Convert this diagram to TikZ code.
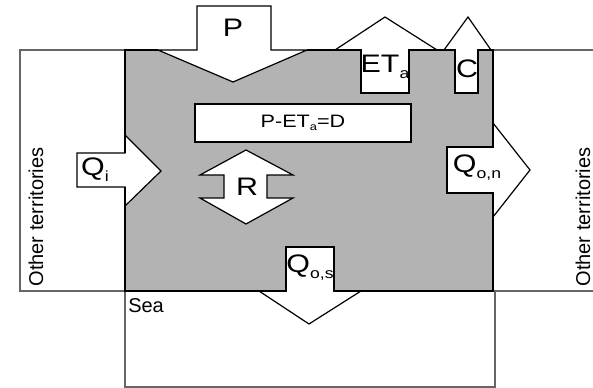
\documentclass[tikz,border=0pt]{standalone}
\usepackage{fontspec}
\setmainfont{Liberation Sans}
\newfontfamily\labfont[FakeStretch=1.2]{Liberation Sans}
\newcommand\sbs[1]{\raisebox{-4.5pt}{\fontsize{11}{12}\selectfont #1}}
\newcommand\sbsmall[1]{\raisebox{-2.5pt}{\fontsize{8}{9}\selectfont #1}}
\definecolor{landgray}{HTML}{B3B3B3}
\begin{document}
\begin{tikzpicture}[x=0.75pt,y=-0.75pt,
  region/.style={line width=0.8pt, draw=black!60},
  flow/.style={fill=white, draw=black, line width=0.9pt, line join=miter},
  rim/.style={line width=2pt, draw=black, line join=miter},
  lab/.style={font=\labfont\fontsize{19}{22}\selectfont, inner sep=0pt},
  side/.style={font=\fontsize{15}{18}\selectfont, inner sep=0pt},
  ]
\useasboundingbox (0,0) rectangle (593,388);
% surrounding regions
\draw[region] (125,50) -- (20,50) -- (20,291) -- (125,291);
\draw[region] (593,50) -- (493,50) (493,291) -- (593,291);
\draw[region] (125,291) -- (125,387) -- (495,387) -- (495,291);
% territory
\fill[landgray] (125,50) -- (361,50) -- (361,93) -- (409,93) -- (409,50) -- (455,50) -- (455,93) -- (478,93) -- (478,50) -- (493,50) -- (493,147) -- (447,147) -- (447,193) -- (493,193) -- (493,291) -- (334,291) -- (334,247) -- (286,247) -- (286,291) -- (125,291) -- cycle;
% flows
\draw[flow] (197,6) -- (271,6) -- (271,50) -- (307,50) -- (233,82) -- (158,50) -- (197,50) -- cycle;
\draw[flow] (361,93) -- (409,93) -- (409,50) -- (437,50) -- (385,17) -- (335,50) -- (361,50) -- cycle;
\draw[flow] (455,93) -- (478,93) -- (478,50) -- (491,50) -- (468,17) -- (444,50) -- (455,50) -- cycle;
\draw[flow] (77,153) -- (125,153) -- (125,135) -- (161,171) -- (125,206) -- (125,187) -- (77,187) -- cycle;
\draw[flow] (447,147) -- (493,147) -- (493,123) -- (530,170) -- (493,217) -- (493,193) -- (447,193) -- cycle;
\draw[flow] (286,247) -- (334,247) -- (334,291) -- (361,291) -- (309,324) -- (259,291) -- (286,291) -- cycle;
\draw[flow] (246,150) -- (293,175) -- (267,175) -- (267,198) -- (293,198) -- (246,224) -- (200,198) -- (224,198) -- (224,175) -- (200,175) -- cycle;
% rim of territory
\draw[rim] (158,50) -- (125,50) -- (125,153);
\draw[rim] (125,187) -- (125,291) -- (286,291) -- (286,247) -- (334,247) -- (334,291) -- (493,291) -- (493,193) -- (447,193) -- (447,147) -- (493,147) -- (493,50) -- (478,50) -- (478,93) -- (455,93) -- (455,50) -- (409,50) -- (409,93) -- (361,93) -- (361,50) -- (307,50);
% balance box
\node[draw, fill=white, line width=1.2pt, minimum width=162pt, minimum height=28.5pt, inner sep=0pt,
  font=\labfont\fontsize{13.5}{16}\selectfont] (dbox) at (303,123) {P-ET\sbsmall{a}=D};
% labels
\node[lab] (lp) at (233,28) {P};
\node[lab] (let) at (385,67) {ET\sbs{a}};
\node[lab] (lc) at (467,69) {C};
\node[lab] (lqi) at (95,170) {Q\sbs{i}};
\node[lab] (lqon) at (477,168) {Q\sbs{o,n}};
\node[lab] (lqos) at (310,268) {Q\sbs{o,s}};
\node[lab] (lr) at (247,187) {R};
\node[side, anchor=west] (lsea) at (128,306) {Sea};
\node[side, rotate=90] (lotl) at (36,217) {Other territories};
\node[side, rotate=90] (lotr) at (583,217) {Other territories};
\end{tikzpicture}
\end{document}
